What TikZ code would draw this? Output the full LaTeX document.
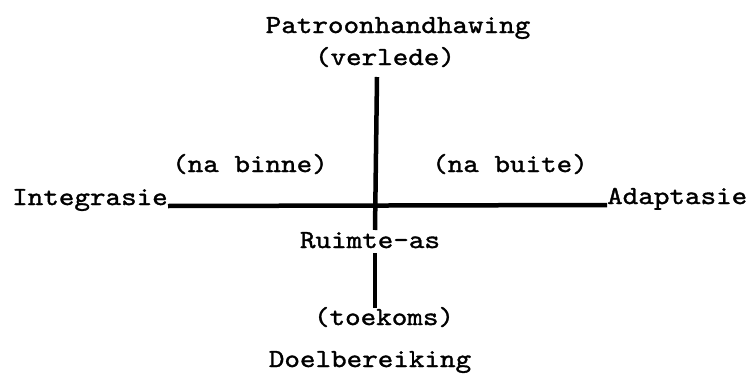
\documentclass[tikz,border=0pt]{standalone}
\usepackage{fontspec}
\setmonofont{lmmono10-regular.otf}[FakeStretch=1.14,FakeBold=1.3]
\begin{document}
\begin{tikzpicture}[x=1pt,y=-1pt,
  lbl/.style={inner sep=0pt,anchor=base,font=\fontsize{26}{30}\selectfont\ttfamily},
  axis/.style={line width=4.5pt,line cap=butt,black}]
\useasboundingbox (0,0) rectangle (753,375);
\node[lbl] (patroon) at (398,33) {Patroonhandhawing};
\node[lbl] (verlede) at (385,65) {(verlede)};
\node[lbl] (binne) at (250,172) {(na binne)};
\node[lbl] (buite) at (510,172) {(na buite)};
\node[lbl,anchor=base east] (integ) at (168,205) {Integrasie};
\node[lbl,anchor=base west] (adapt) at (607,204) {Adaptasie};
\node[lbl] (ruimte) at (370,248) {Ruimte-as};
\node[lbl] (toekoms) at (384,325) {(toekoms)};
\node[lbl] (doel) at (370,367) {Doelbereiking};
\coordinate (top) at (377,77);
\coordinate (midlow) at (375,230);
\coordinate (left) at (168,206);
\coordinate (right) at (607,205);
\coordinate (lowtop) at (375,253);
\coordinate (lowbot) at (375,308);
\draw[axis] (top) -- (midlow);
\draw[axis] (left) -- (right);
\draw[axis] (lowtop) -- (lowbot);
\end{tikzpicture}
\end{document}
